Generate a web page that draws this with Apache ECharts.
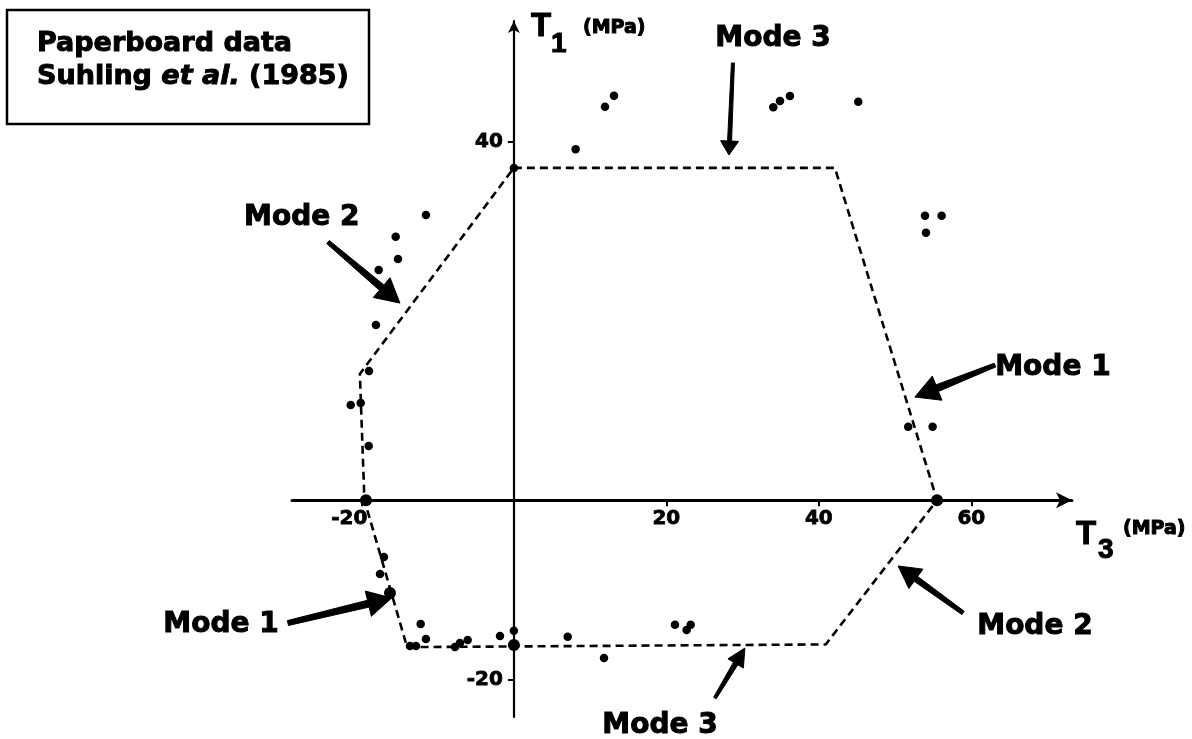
<!DOCTYPE html>
<html><head><meta charset="utf-8">
<script src="https://cdn.jsdelivr.net/npm/echarts@6/dist/echarts.min.js"></script>
<style>html,body{margin:0;padding:0;background:#fff}#c{width:1192px;height:739px}</style>
</head><body><div id="c"></div>
<script>
// ---- data (T3 = x, T1 = y, MPa) ----
const xTicks = [-20, 20, 40, 60];
const yTicks = [-20, 40];
const pointT3 = [0, 8.1, 11.95, 13.13, 34.02, 34.9, 36.21, 45.17, 53.92, 56.1, 54.05,
  51.72, 54.92,
  -11.53, -15.5, -15.2, -17.73, -18.09, -19.0, -21.4, -20.09, -19.04,
  -17.04, -17.56, -12.22, -11.53, -13.63, -12.84, -7.72, -7.07, -6.06, -1.82, 0, 7.06, 11.82, 21.13, 22.66, 23.19];
const pointT1 = [37.1, 39.17, 43.93, 45.16, 43.86, 44.56, 45.12, 44.49, 31.76, 31.76, 29.86,
  8.2, 8.2,
  31.84, 29.42, 26.92, 25.7, 19.56, 14.42, 10.62, 10.85, 6.05,
  -6.34, -8.24, -13.82, -15.5, -16.28, -16.28, -16.39, -15.95, -15.61, -15.16, -14.57, -15.24, -17.62, -13.9, -14.49, -13.9];
const bigT3 = [55.5, -19.4, -16.25, 0];
const bigT1 = [0, 0, -10.36, -16.16];
const boundT3 = [0, 42.1, 55.5, 40.9, -14.0, -19.6, -20.2, 0];
const boundT1 = [37.1, 37.1, 0, -16.1, -16.4, 0, 14.1, 37.1];
const modeText = ['Mode 3', 'Mode 2', 'Mode 1', 'Mode 2', 'Mode 1', 'Mode 3'];
const modeT3 = [33.98, -27.82, 70.70, 68.34, -38.41, 19.16];
const modeT1 = [51.76, 31.78, 14.98, -13.93, -13.71, -24.93];
const arrowFromT3 = [28.73, -24.38, 63.10, 58.91, -29.63, 26.37];
const arrowFromT1 = [48.81, 28.82, 15.09, -12.58, -13.71, -22.08];
const arrowToT3 = [28.21, -14.94, 52.59, 50.39, -16.03, 30.30];
const arrowToT1 = [38.54, 22.01, 11.52, -7.34, -10.92, -16.50];
const boxLine1 = 'Paperboard data';
const boxLine2a = 'Suhling ', boxLine2b = 'et al.', boxLine2c = ' (1985)';

// arrow sizes (tail width, shaft width, head length, head width)
const arrowSize = [[3, 4, 14, 18], [4, 7, 24, 26], [4, 7, 24, 26], [4, 6, 22, 24], [5, 7, 24, 26], [3, 5, 18, 18]];

const FB = 'DejaVu Sans';
const X_MIN = -29.1, X_MAX = 73.2, Y_MIN = -24.2, Y_MAX = 53.5;
const GRID = {left: 292, right: 120, top: 21, bottom: 22};
const W = 1192, H = 739;
const gw = W - GRID.left - GRID.right, gh = H - GRID.top - GRID.bottom;
// shift the axes (with their labels) onto the zero lines
const xOffset = -(gh * (0 - Y_MIN) / (Y_MAX - Y_MIN));
const yOffset = -(gw * (0 - X_MIN) / (X_MAX - X_MIN));

const chart = echarts.init(document.getElementById('c'), null, {renderer: 'canvas'});
const pts = pointT3.map((x, i) => [x, pointT1[i]]);
const big = bigT3.map((x, i) => [x, bigT1[i]]);
const bound = boundT3.map((x, i) => [x, boundT1[i]]);

const heavy = {textBorderColor: '#000', textBorderWidth: 0.8};

chart.setOption({
  animation: false,
  backgroundColor: '#fff',
  grid: {left: GRID.left, right: GRID.right, top: GRID.top, bottom: GRID.bottom, containLabel: false, outerBoundsMode: 'none'},
  xAxis: {
    type: 'value', min: X_MIN, max: X_MAX, position: 'bottom', offset: xOffset,
    splitLine: {show: false},
    axisLine: {onZero: false, lineStyle: {color: '#000', width: 3}, symbol: ['none', 'arrow'], symbolSize: [12, 16]},
    axisTick: {customValues: xTicks, length: 6, lineStyle: {color: '#000', width: 2}},
    axisLabel: Object.assign({customValues: xTicks, margin: 9, color: '#000', fontFamily: FB, fontWeight: 'bold', fontSize: 20,
      formatter: v => v < 0 ? '{n|' + v + '}' : String(v),
      rich: {n: Object.assign({color: '#000', fontFamily: FB, fontWeight: 'bold', fontSize: 20, padding: [0, 24, 0, 0]}, heavy)}}, heavy)
  },
  yAxis: {
    type: 'value', min: Y_MIN, max: Y_MAX, position: 'left', offset: yOffset,
    splitLine: {show: false},
    axisLine: {onZero: false, lineStyle: {color: '#000', width: 2.2}, symbol: ['none', 'arrow'], symbolSize: [9, 12]},
    axisTick: {customValues: yTicks, length: 6, lineStyle: {color: '#000', width: 2}},
    axisLabel: Object.assign({customValues: yTicks, margin: 11, color: '#000', fontFamily: FB, fontWeight: 'bold', fontSize: 20}, heavy)
  },
  series: [
    {type: 'line', data: bound, showSymbol: false, symbol: 'none', silent: true, z: 2,
      lineStyle: {color: '#000', width: 2.6, type: [8, 5]}},
    {type: 'scatter', data: pts, symbol: 'circle', symbolSize: 8.5, itemStyle: {color: '#000', opacity: 1}, z: 3},
    {type: 'scatter', data: big, symbol: 'circle', symbolSize: 12, itemStyle: {color: '#000', opacity: 1}, z: 3}
  ]
});

function arrowPoly(p0, p1, s) {
  const dx = p1[0] - p0[0], dy = p1[1] - p0[1];
  const len = Math.sqrt(dx * dx + dy * dy);
  const ux = dx / len, uy = dy / len, nx = -uy, ny = ux;
  const bx = p1[0] - ux * s[2], by = p1[1] - uy * s[2];
  return [
    [p0[0] + nx * s[0] / 2, p0[1] + ny * s[0] / 2],
    [bx + nx * s[1] / 2, by + ny * s[1] / 2],
    [bx + nx * s[3] / 2, by + ny * s[3] / 2],
    [p1[0], p1[1]],
    [bx - nx * s[3] / 2, by - ny * s[3] / 2],
    [bx - nx * s[1] / 2, by - ny * s[1] / 2],
    [p0[0] - nx * s[0] / 2, p0[1] - ny * s[0] / 2]
  ];
}

const strokeStyle = {stroke: '#000', lineWidth: 1};
const g = [];
for (let i = 0; i < modeText.length; i++) {
  const c = chart.convertToPixel({gridIndex: 0}, [modeT3[i], modeT1[i]]);
  g.push({type: 'text', x: c[0], y: c[1] + 2, z: 10,
    style: Object.assign({text: modeText[i], fill: '#000', font: 'bold 28px "DejaVu Sans"', align: 'center', verticalAlign: 'middle'}, strokeStyle)});
  const a = chart.convertToPixel({gridIndex: 0}, [arrowFromT3[i], arrowFromT1[i]]);
  const b = chart.convertToPixel({gridIndex: 0}, [arrowToT3[i], arrowToT1[i]]);
  g.push({type: 'polygon', z: 10, shape: {points: arrowPoly(a, b, arrowSize[i])}, style: {fill: '#000', stroke: '#000', lineWidth: 1, lineJoin: 'round'}});
}
// text box
g.push({type: 'rect', z: 10, shape: {x: 7, y: 10, width: 362, height: 114}, style: {fill: 'none', stroke: '#000', lineWidth: 2.5}});
g.push({type: 'text', z: 10, x: 37, y: 43.5, style: Object.assign({text: boxLine1, fill: '#000', font: 'bold 27px "DejaVu Sans"', align: 'left', verticalAlign: 'middle'}, strokeStyle)});
g.push({type: 'text', z: 10, x: 37, y: 77.3, style: {
  text: '{n|' + boxLine2a + '}{i|' + boxLine2b + '}{n|' + boxLine2c + '}', align: 'left', verticalAlign: 'middle',
  rich: {n: {fill: '#000', fontFamily: FB, fontWeight: 'bold', fontSize: 27, stroke: '#000', lineWidth: 1},
         i: {fill: '#000', fontFamily: FB, fontWeight: 'bold', fontStyle: 'italic', fontSize: 27, stroke: '#000', lineWidth: 1}}}});
// axis names
g.push({type: 'text', z: 10, x: 531, y: 26.6, style: Object.assign({text: 'T', fill: '#000', font: 'bold 33px "Liberation Sans"', verticalAlign: 'middle'}, strokeStyle)});
g.push({type: 'text', z: 10, x: 551, y: 44, style: Object.assign({text: '1', fill: '#000', font: 'bold 28px "Liberation Sans"', verticalAlign: 'middle'}, strokeStyle)});
g.push({type: 'text', z: 10, x: 583, y: 28, style: Object.assign({text: '(MPa)', fill: '#000', font: 'bold 19px "DejaVu Sans"', verticalAlign: 'middle'}, strokeStyle)});
g.push({type: 'text', z: 10, x: 1076, y: 535, style: Object.assign({text: 'T', fill: '#000', font: 'bold 33px "Liberation Sans"', verticalAlign: 'middle'}, strokeStyle)});
g.push({type: 'text', z: 10, x: 1098, y: 550, style: Object.assign({text: '3', fill: '#000', font: 'bold 28px "Liberation Sans"', verticalAlign: 'middle'}, strokeStyle)});
g.push({type: 'text', z: 10, x: 1123, y: 529, style: Object.assign({text: '(MPa)', fill: '#000', font: 'bold 19px "DejaVu Sans"', verticalAlign: 'middle'}, strokeStyle)});
chart.setOption({graphic: g});
</script>
</body></html>
